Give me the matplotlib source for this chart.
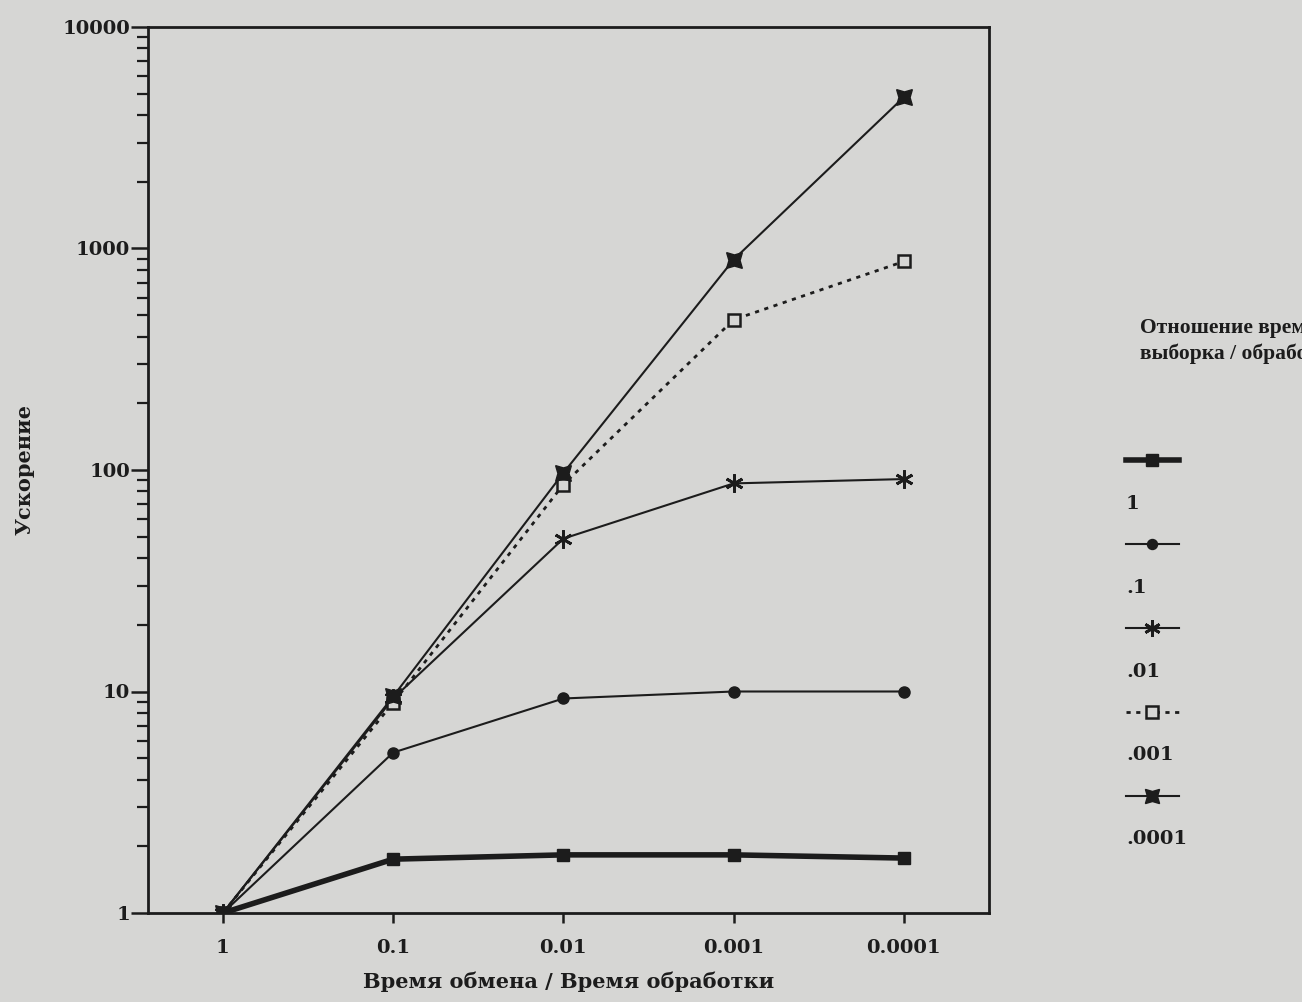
#!/usr/bin/env python3
import matplotlib
matplotlib.use('Agg')
import matplotlib.pyplot as plt
from matplotlib.lines import Line2D
from matplotlib.ticker import LogLocator, NullLocator, NullFormatter

plt.rcParams['font.family'] = ['DejaVu Serif']
plt.rcParams['font.weight'] = 'bold'
plt.rcParams['axes.labelweight'] = 'bold'

# Data
ratio = [1, 0.1, 0.01, 0.001, 0.0001]
ratio_labels = ['1', '0.1', '0.01', '0.001', '0.0001']
speedup_1 = [1, 1.75, 1.83, 1.83, 1.77]
speedup_01 = [1, 5.3, 9.3, 10.0, 10.0]
speedup_001 = [1, 9.3, 49, 87, 91]
speedup_0001 = [1, 8.9, 86, 477, 874]
speedup_00001 = [1, 9.5, 97, 891, 4825]
series_labels = ['1', '.1', '.01', '.001', '.0001']

ink = '#1c1c1c'
paper = '#d6d6d4'

fig = plt.figure(figsize=(13.02, 10.02), dpi=100, facecolor=paper)
ax = fig.add_axes([148/1302, 1 - 913/1002, (989 - 148)/1302, (913 - 27)/1002])
ax.set_facecolor(paper)

h1, = ax.plot(ratio, speedup_1, color=ink, lw=4, marker='s', ms=9, mfc=ink, mec=ink)
h2, = ax.plot(ratio, speedup_01, color=ink, lw=1.5, marker='o', ms=8, mfc=ink, mec=ink)
h3, = ax.plot(ratio, speedup_001, color=ink, lw=1.5, marker=(6, 2, 0), ms=13, mew=2, mec=ink)
h4, = ax.plot(ratio, speedup_0001, color=ink, lw=2, ls=(0, (1.5, 2)), marker='s', ms=9,
              mfc=paper, mec=ink, mew=1.8)
h5, = ax.plot(ratio, speedup_00001, color=ink, lw=1.5, marker=(4, 1, 45), ms=16, mfc=ink, mec=ink)

ax.set_xscale('log')
ax.set_yscale('log')
ax.set_xlim(10**0.44, 10**-4.5)
ax.set_ylim(1, 10000)
ax.set_xticks(ratio)
ax.set_xticklabels(ratio_labels)
ax.xaxis.set_minor_locator(NullLocator())
ax.set_yticks([1, 10, 100, 1000, 10000])
ax.set_yticklabels(['1', '10', '100', '1000', '10000'])
ax.yaxis.set_minor_locator(LogLocator(base=10, subs=range(2, 10)))
ax.yaxis.set_minor_formatter(NullFormatter())

ax.tick_params(axis='both', which='major', labelsize=14, colors=ink, width=1.8)
ax.tick_params(axis='y', which='major', length=12, direction='out', pad=1)
ax.tick_params(axis='y', which='minor', length=8, width=1.6, direction='out', colors=ink)
ax.tick_params(axis='x', which='major', length=7, direction='out', pad=12)
for s in ax.spines.values():
    s.set_color(ink)
    s.set_linewidth(2)

ax.set_xlabel('Время обмена / Время обработки', fontsize=15, color=ink, labelpad=10)
ax.set_ylabel('Ускорение', fontsize=15, color=ink, labelpad=20)

fig.text(1140/1302, 1 - 318/1002, 'Отношение времени\nвыборка / обработки',
         fontsize=15.5, color=ink, ha='left', va='top', linespacing=1.35,
         family='Liberation Serif')

# legend: line sample on one row, its label on the row below
blank = Line2D([], [], linestyle='none')
handles, labels = [], []
for h, lab in zip([h1, h2, h3, h4, h5], series_labels):
    handles += [h, blank]
    labels += ['', lab]
leg = fig.legend(handles, labels, loc='upper left', bbox_to_anchor=(1126/1302, 1 - 453/1002),
                 frameon=False, fontsize=14, handlelength=2.7, handletextpad=-2.7,
                 labelspacing=1.23, borderaxespad=0, borderpad=0, markerscale=0.9)
for t in leg.get_texts():
    t.set_color(ink)

fig.savefig('out.png', dpi=100, facecolor=paper)
